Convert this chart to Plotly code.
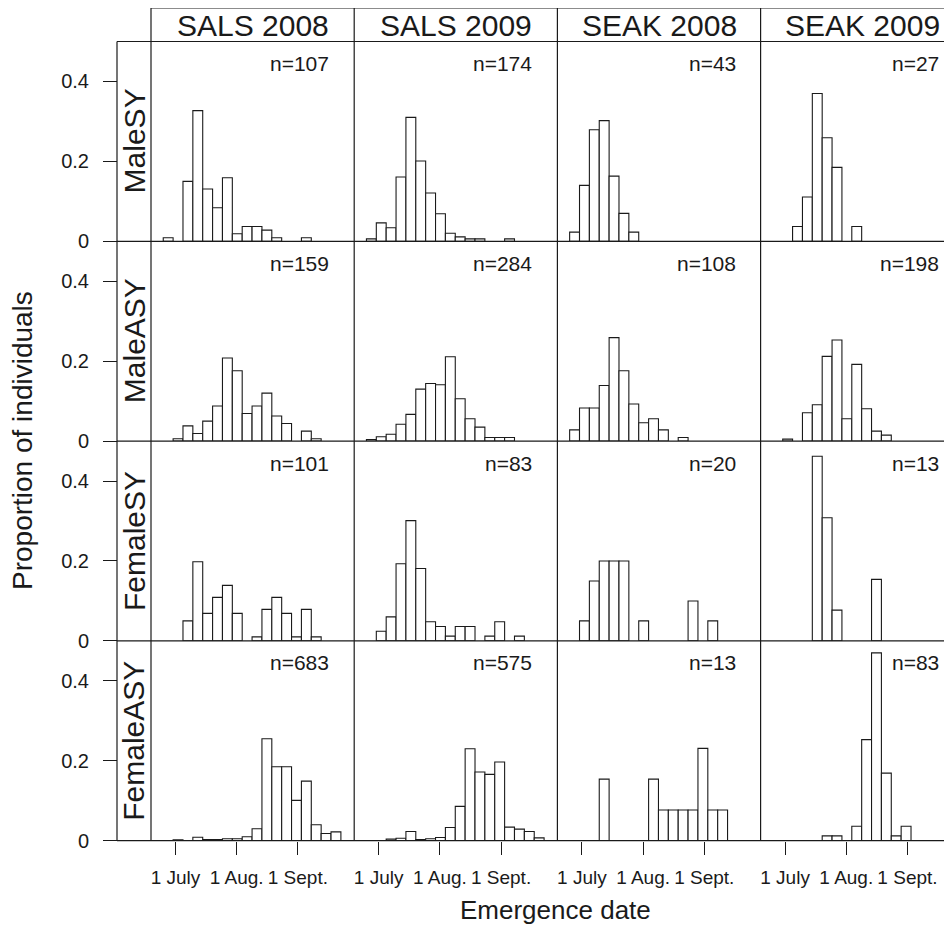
import plotly.graph_objects as go

W, H = 952, 939
OFF = 8  # page body margin of the html page

sites = ["SALS 2008", "SALS 2009", "SEAK 2008", "SEAK 2009"]
groups = ["MaleSY", "MaleASY", "FemaleSY", "FemaleASY"]
n_values = [[107, 174, 43, 27],
            [159, 284, 108, 198],
            [101, 83, 20, 13],
            [683, 575, 13, 83]]

# 5-day bins, centre in days after 1 July
bin_centers = [-3.7, 1.3, 6.3, 11.3, 16.3, 21.3, 26.3, 31.3, 36.3,
               41.3, 46.3, 51.3, 56.3, 61.3, 66.3, 71.3, 76.3, 81.3]
bin_width = 5

tick_days = [0, 31, 62]
tick_labels = ["1 July", "1 Aug.", "1 Sept."]

# proportions per bin (rows = groups, cols = sites)
maleSY_sals2008 = [0.009, 0, 0.150, 0.327, 0.131, 0.084, 0.159, 0.019, 0.037, 0.037, 0.028, 0.009, 0, 0, 0.009, 0, 0, 0]
maleSY_sals2009 = [0.006, 0.046, 0.034, 0.161, 0.310, 0.201, 0.121, 0.069, 0.020, 0.011, 0.006, 0.006, 0, 0, 0.006, 0, 0, 0]
maleSY_seak2008 = [0.023, 0.140, 0.279, 0.302, 0.163, 0.070, 0.023, 0, 0, 0, 0, 0, 0, 0, 0, 0, 0, 0]
maleSY_seak2009 = [0, 0, 0.037, 0.111, 0.370, 0.259, 0.185, 0, 0.037, 0, 0, 0, 0, 0, 0, 0, 0, 0]

maleASY_sals2008 = [0, 0.006, 0.038, 0.019, 0.050, 0.088, 0.208, 0.176, 0.069, 0.088, 0.120, 0.063, 0.044, 0, 0.025, 0.006, 0, 0]
maleASY_sals2009 = [0.004, 0.011, 0.017, 0.042, 0.067, 0.130, 0.144, 0.141, 0.211, 0.106, 0.056, 0.035, 0.009, 0.009, 0.009, 0, 0, 0]
maleASY_seak2008 = [0.028, 0.083, 0.083, 0.139, 0.259, 0.176, 0.093, 0.046, 0.056, 0.028, 0, 0.009, 0, 0, 0, 0, 0, 0]
maleASY_seak2009 = [0, 0.005, 0, 0.071, 0.091, 0.212, 0.253, 0.056, 0.192, 0.081, 0.025, 0.015, 0, 0, 0, 0, 0, 0]

femaleSY_sals2008 = [0, 0, 0.050, 0.198, 0.069, 0.109, 0.139, 0.069, 0, 0.010, 0.079, 0.109, 0.069, 0.010, 0.079, 0.010, 0, 0]
femaleSY_sals2009 = [0, 0.024, 0.060, 0.193, 0.301, 0.181, 0.048, 0.036, 0.012, 0.036, 0.036, 0, 0.012, 0.048, 0, 0.012, 0, 0]
femaleSY_seak2008 = [0, 0.05, 0.15, 0.20, 0.20, 0.20, 0, 0.05, 0, 0, 0, 0, 0.10, 0, 0.05, 0, 0, 0]
femaleSY_seak2009 = [0, 0, 0, 0, 0.462, 0.308, 0.077, 0, 0, 0, 0.154, 0, 0, 0, 0, 0, 0, 0]

femaleASY_sals2008 = [0, 0.0025, 0, 0.0085, 0.003, 0.003, 0.005, 0.005, 0.010, 0.030, 0.255, 0.185, 0.185, 0.101, 0.149, 0.040, 0.018, 0.022]
femaleASY_sals2009 = [0, 0, 0.004, 0.006, 0.023, 0.003, 0.005, 0.008, 0.033, 0.086, 0.230, 0.172, 0.166, 0.197, 0.034, 0.029, 0.023, 0.007]
femaleASY_seak2008 = [0, 0, 0, 0.154, 0, 0, 0, 0, 0.154, 0.077, 0.077, 0.077, 0.077, 0.231, 0.077, 0.077, 0, 0]
femaleASY_seak2009 = [0, 0, 0, 0, 0, 0.012, 0.012, 0, 0.036, 0.253, 0.470, 0.169, 0.012, 0.036, 0, 0, 0, 0]

panels = [
    [maleSY_sals2008, maleSY_sals2009, maleSY_seak2008, maleSY_seak2009],
    [maleASY_sals2008, maleASY_sals2009, maleASY_seak2008, maleASY_seak2009],
    [femaleSY_sals2008, femaleSY_sals2009, femaleSY_seak2008, femaleSY_seak2009],
    [femaleASY_sals2008, femaleASY_sals2009, femaleASY_seak2008, femaleASY_seak2009],
]

# ---- layout geometry (screen pixels) ----
FONT = "Liberation Sans, Arial, Helvetica, sans-serif"
INK = "#1a1a1a"
LW = 1.2
col_left = [151, 354.2, 557.4, 760.6]
col_w = 203.2
row_top = [41.5, 241.3, 441.1, 640.9]
row_h = 199.8
strip_left = 117
header_top = 8
x_left_days = -12.4
px_per_day = 1.974
VIS_R = W  # visible right edge of the screen


def fx(p):
    return (p - OFF) / W


def fy(p):
    return 1 - (p - OFF) / H


fig = go.Figure()
layout = dict(
    width=W, height=H,
    margin=dict(l=0, r=0, t=0, b=0, autoexpand=False),
    paper_bgcolor="white", plot_bgcolor="white",
    showlegend=False,
    font=dict(family=FONT, color=INK),
)

shapes = []
annotations = []

for r in range(4):
    for c in range(4):
        i = r * 4 + c + 1
        L = col_left[c]
        R = min(L + col_w, VIS_R)
        top = row_top[r]
        bot = top + row_h
        xs = [bc for bc, v in zip(bin_centers, panels[r][c]) if v > 0]
        ys = [v for v in panels[r][c] if v > 0]
        fig.add_trace(go.Bar(
            x=xs, y=ys, width=bin_width,
            marker=dict(color="white", line=dict(color=INK, width=1.1)),
            xaxis=f"x{i}", yaxis=f"y{i}", hoverinfo="x+y",
        ))
        xa = dict(
            domain=[fx(L), fx(R)],
            range=[x_left_days, x_left_days + (R - L) / px_per_day],
            anchor=f"y{i}", showgrid=False, zeroline=False, showline=False,
            automargin=False, fixedrange=True,
        )
        if r == 3:
            xa.update(tickmode="array", tickvals=tick_days, ticktext=tick_labels,
                      ticks="outside", ticklen=13, tickwidth=LW, tickcolor=INK,
                      tickangle=0,
                      tickfont=dict(size=19, family=FONT, color=INK),
                      ticklabelstandoff=6)
        else:
            xa.update(showticklabels=False, ticks="")
        ya = dict(
            domain=[fy(bot), fy(top)], range=[0, 0.5],
            showgrid=False, zeroline=False, showline=False,
            automargin=False, fixedrange=True,
        )
        if c == 0:
            ya.update(anchor="free", position=fx(strip_left),
                      tickmode="array", tickvals=[0, 0.2, 0.4],
                      ticktext=["0", "0.2", "0.4"],
                      ticks="outside", ticklen=14, tickwidth=LW, tickcolor=INK,
                      tickfont=dict(size=20, family=FONT, color=INK),
                      ticklabelstandoff=10)
        else:
            ya.update(anchor=f"x{i}", showticklabels=False, ticks="")
        layout["xaxis" if i == 1 else f"xaxis{i}"] = xa
        layout["yaxis" if i == 1 else f"yaxis{i}"] = ya

        # n label
        annotations.append(dict(
            x=fx(L + col_w - 23), y=fy(top + 22), xref="paper", yref="paper",
            text=f"n={n_values[r][c]}", showarrow=False, xanchor="right",
            yanchor="middle", font=dict(size=21, family=FONT, color=INK)))


def hline(y, x0, x1):
    shapes.append(dict(type="line", xref="paper", yref="paper",
                       x0=fx(x0), x1=fx(x1), y0=fy(y), y1=fy(y),
                       line=dict(color=INK, width=LW), layer="above"))


def vline(x, y0, y1):
    shapes.append(dict(type="line", xref="paper", yref="paper",
                       x0=fx(x), x1=fx(x), y0=fy(y0), y1=fy(y1),
                       line=dict(color=INK, width=LW), layer="above"))


bottom = row_top[3] + row_h
# header strip
hline(header_top, col_left[0], VIS_R + 20)
hline(row_top[0], strip_left, VIS_R + 20)
for c in range(4):
    vline(col_left[c], header_top, bottom)
    annotations.append(dict(
        x=fx(col_left[c] + col_w / 2), y=fy((header_top + row_top[0]) / 2 + 1),
        xref="paper", yref="paper", text=sites[c], showarrow=False,
        xanchor="center", yanchor="middle",
        font=dict(size=30, family=FONT, color=INK)))
# left strip and row separators
vline(strip_left, row_top[0], bottom)
for r in range(1, 4):
    hline(row_top[r], strip_left, VIS_R + 20)
hline(bottom, strip_left, VIS_R + 20)
for r in range(4):
    annotations.append(dict(
        x=fx((strip_left + col_left[0]) / 2), y=fy(row_top[r] + row_h / 2),
        xref="paper", yref="paper", text=groups[r], showarrow=False,
        textangle=-90, xanchor="center", yanchor="middle",
        font=dict(size=30, family=FONT, color=INK)))

# axis titles
annotations.append(dict(
    x=fx(22), y=fy(441), xref="paper", yref="paper",
    text="Proportion of individuals", showarrow=False, textangle=-90,
    xanchor="center", yanchor="middle", font=dict(size=28, family=FONT, color=INK)))
annotations.append(dict(
    x=fx(555), y=fy(910), xref="paper", yref="paper",
    text="Emergence date", showarrow=False,
    xanchor="center", yanchor="middle", font=dict(size=26, family=FONT, color=INK)))

layout["shapes"] = shapes
layout["annotations"] = annotations
fig.update_layout(**layout)
fig.write_html("out.html")
